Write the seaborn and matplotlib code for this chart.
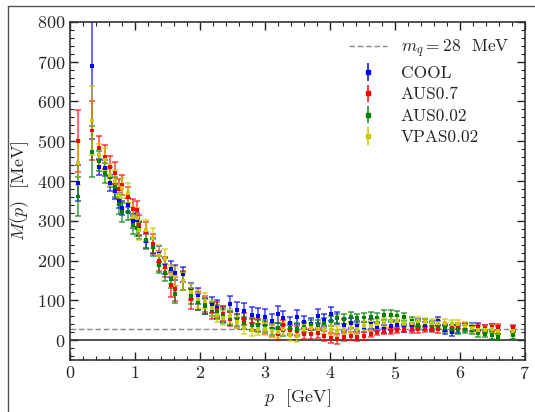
import numpy as np
import pandas as pd
import matplotlib
matplotlib.use("Agg")
import matplotlib.pyplot as plt
import seaborn as sns
from matplotlib.lines import Line2D
from matplotlib.legend_handler import HandlerTuple
from matplotlib.ticker import MultipleLocator

# momentum values (GeV), shared by all four ensembles
p_vals = [0.12, 0.34, 0.45, 0.54, 0.62, 0.69, 0.75, 0.80, 0.89, 0.97,
          1.03, 1.06, 1.17, 1.28, 1.37, 1.46, 1.55, 1.62, 1.74, 1.86,
          1.97, 2.08, 2.18, 2.26, 2.35, 2.46, 2.57, 2.68, 2.80, 2.89,
          3.00, 3.11, 3.20, 3.28, 3.38, 3.49, 3.60, 3.71, 3.82, 3.91,
          4.02, 4.11, 4.22, 4.32, 4.42, 4.52, 4.63, 4.72, 4.83, 4.94,
          5.03, 5.14, 5.26, 5.35, 5.46, 5.57, 5.66, 5.77, 5.88, 5.97,
          6.08, 6.18, 6.28, 6.38, 6.49, 6.58, 6.82]

cool_m = [396, 690, 436, 433, 396, 374, 351, 333, 340, 300,
          301, 280, 250, 238, 216, 186, 180, 170, 165, 123,
          110, 85, 88, 80, 65, 90, 75, 73, 63, 60,
          58, 48, 65, 55, 43, 58, 45, 40, 60, 50,
          65, 55, 38, 43, 35, 33, 40, 33, 28, 35,
          38, 30, 33, 43, 35, 33, 48, 25, 20, 28,
          33, 33, 33, 28, 30, 25, 28]
cool_err = [45, 185, 20, 20, 20, 18, 18, 18, 18, 18,
            18, 18, 18, 20, 20, 20, 20, 20, 20, 20,
            20, 20, 20, 20, 20, 20, 20, 20, 20, 20,
            20, 18, 22, 18, 15, 18, 15, 15, 18, 15,
            18, 15, 15, 12, 12, 12, 12, 10, 10, 10,
            10, 10, 10, 10, 10, 10, 10, 10, 10, 10,
            10, 10, 10, 10, 10, 10, 8]

aus07_m = [501, 527, 483, 461, 436, 421, 381, 391, 359, 330,
           326, 290, 271, 241, 200, 183, 138, 128, 150, 103,
           98, 90, 73, 75, 65, 53, 48, 53, 40, 38,
           30, 23, 15, 38, 25, 23, 15, 15, 18, 10,
           5, 3, 8, 10, 8, 10, 15, 20, 23, 23,
           25, 28, 27, 27, 28, 28, 27, 30, 30, 35,
           35, 28, 30, 30, 33, 33, 30]
aus07_err = [78, 74, 30, 30, 28, 28, 25, 25, 25, 25,
             25, 25, 25, 25, 25, 25, 30, 30, 25, 25,
             22, 20, 20, 20, 18, 18, 18, 15, 15, 15,
             15, 15, 15, 12, 12, 12, 12, 12, 12, 12,
             12, 12, 10, 10, 10, 10, 8, 8, 8, 8,
             8, 8, 8, 8, 8, 8, 8, 8, 8, 8,
             8, 8, 8, 8, 8, 8, 8]

aus002_m = [361, 473, 451, 421, 410, 386, 343, 321, 323, 290,
            283, 276, 251, 233, 190, 170, 153, 115, 149, 110,
            95, 85, 78, 70, 60, 55, 50, 43, 38, 35,
            35, 28, 30, 25, 30, 28, 33, 38, 38, 43,
            48, 55, 53, 58, 55, 57, 58, 57, 63, 63,
            62, 58, 48, 38, 43, 38, 38, 30, 27, 25,
            27, 25, 17, 15, 12, 8, 12]
aus002_err = [50, 64, 25, 25, 25, 25, 25, 25, 22, 22,
              22, 22, 22, 22, 22, 22, 22, 22, 22, 20,
              20, 18, 18, 18, 18, 18, 15, 15, 15, 15,
              15, 14, 14, 14, 14, 14, 12, 12, 12, 12,
              12, 12, 12, 12, 12, 12, 12, 12, 12, 12,
              12, 10, 10, 10, 10, 10, 10, 10, 10, 10,
              10, 10, 8, 8, 8, 8, 8]

vpas_m = [446, 552, 466, 454, 416, 399, 364, 383, 371, 310,
          308, 278, 276, 256, 213, 203, 165, 160, 148, 120,
          103, 98, 80, 63, 55, 60, 45, 30, 25, 28,
          28, 23, 20, 28, 13, 10, 28, 30, 28, 28,
          25, 23, 28, 30, 28, 35, 35, 40, 45, 48,
          48, 43, 43, 48, 45, 43, 43, 43, 40, 40,
          35, 30, 25, 25, 28, 22, 22]
vpas_err = [55, 87, 28, 28, 28, 28, 25, 25, 25, 25,
            25, 25, 25, 25, 25, 25, 25, 25, 22, 22,
            22, 20, 20, 18, 18, 18, 15, 15, 15, 15,
            15, 14, 14, 14, 14, 14, 12, 12, 12, 12,
            12, 12, 12, 12, 12, 12, 12, 12, 12, 12,
            12, 10, 10, 10, 10, 10, 10, 10, 10, 10,
            10, 10, 10, 10, 10, 10, 8]

series_names = ["COOL", "AUS0.7", "AUS0.02", "VPAS0.02"]
series_m = [cool_m, aus07_m, aus002_m, vpas_m]
series_err = [cool_err, aus07_err, aus002_err, vpas_err]
colors = ["#0000ff", "#ff0000", "#008000", "#c8c800"]
mq = 28

frames = []
for name, m, e in zip(series_names, series_m, series_err):
    frames.append(pd.DataFrame({"p": p_vals, "M": m, "err": e, "ensemble": name}))
df = pd.concat(frames, ignore_index=True)

sns.set_theme(style="ticks")
plt.rcParams["font.family"] = ["cmr10", "DejaVu Serif"]
plt.rcParams["mathtext.fontset"] = "cm"
plt.rcParams["axes.formatter.use_mathtext"] = True

fig = plt.figure(figsize=(5.35, 4.12), dpi=100)
ax = fig.add_axes([0.131, 0.126, 0.85, 0.821])

ax.axhline(0, color="#333333", lw=1.2, zorder=1)
dash = ax.axhline(mq, color="#888888", lw=1.0, ls=(0, (4, 2)), zorder=1)

handles = []
for name, c in zip(series_names, colors):
    sub = df[df["ensemble"] == name]
    eb = ax.errorbar(sub["p"], sub["M"], yerr=sub["err"], fmt="none",
                     ecolor=c, elinewidth=1.1, capsize=2.5, capthick=1.1,
                     alpha=0.75, zorder=2)
    leg_eb = ax.errorbar([], [], yerr=[], fmt="none", ecolor=c,
                         elinewidth=1.1, capsize=3, capthick=1.1)
    handles.append((leg_eb, Line2D([], [], marker="s", ls="", color=c, ms=2.5)))

sns.scatterplot(data=df, x="p", y="M", hue="ensemble", palette=colors,
                hue_order=series_names, marker="s", s=8, linewidth=0,
                legend=False, ax=ax, zorder=3)

ax.set_xlim(0, 7)
ax.set_ylim(-50, 800)
ax.xaxis.set_major_locator(MultipleLocator(1))
ax.xaxis.set_minor_locator(MultipleLocator(0.2))
ax.yaxis.set_major_locator(MultipleLocator(100))
ax.yaxis.set_minor_locator(MultipleLocator(20))
ax.tick_params(which="both", direction="in", top=True, right=True,
               labelsize=13, color="#222222")
ax.tick_params(which="major", length=6, width=1)
ax.tick_params(which="minor", length=3, width=0.8)
for s in ax.spines.values():
    s.set_linewidth(1.2)
    s.set_color("#333333")

ax.set_xlabel(r"$p$  [GeV]", fontsize=13, labelpad=4)
ax.set_ylabel(r"$M(p)$  [MeV]", fontsize=13, labelpad=4)

leg_handles = [dash] + handles
leg_labels = [r"$m_q = 28$  MeV"] + series_names
ax.legend(leg_handles, leg_labels, loc="upper right", frameon=False,
          fontsize=12.5, handlelength=2.2, labelspacing=0.35,
          handler_map={tuple: HandlerTuple(ndivide=1)})

# thin frame lines of the surrounding slide
fig.add_artist(Line2D([0.015, 0.015], [0, 0.985], color="#555555", lw=1))
fig.add_artist(Line2D([0.015, 1.0], [0.985, 0.985], color="#555555", lw=1))

fig.savefig("out.png", dpi=100)
